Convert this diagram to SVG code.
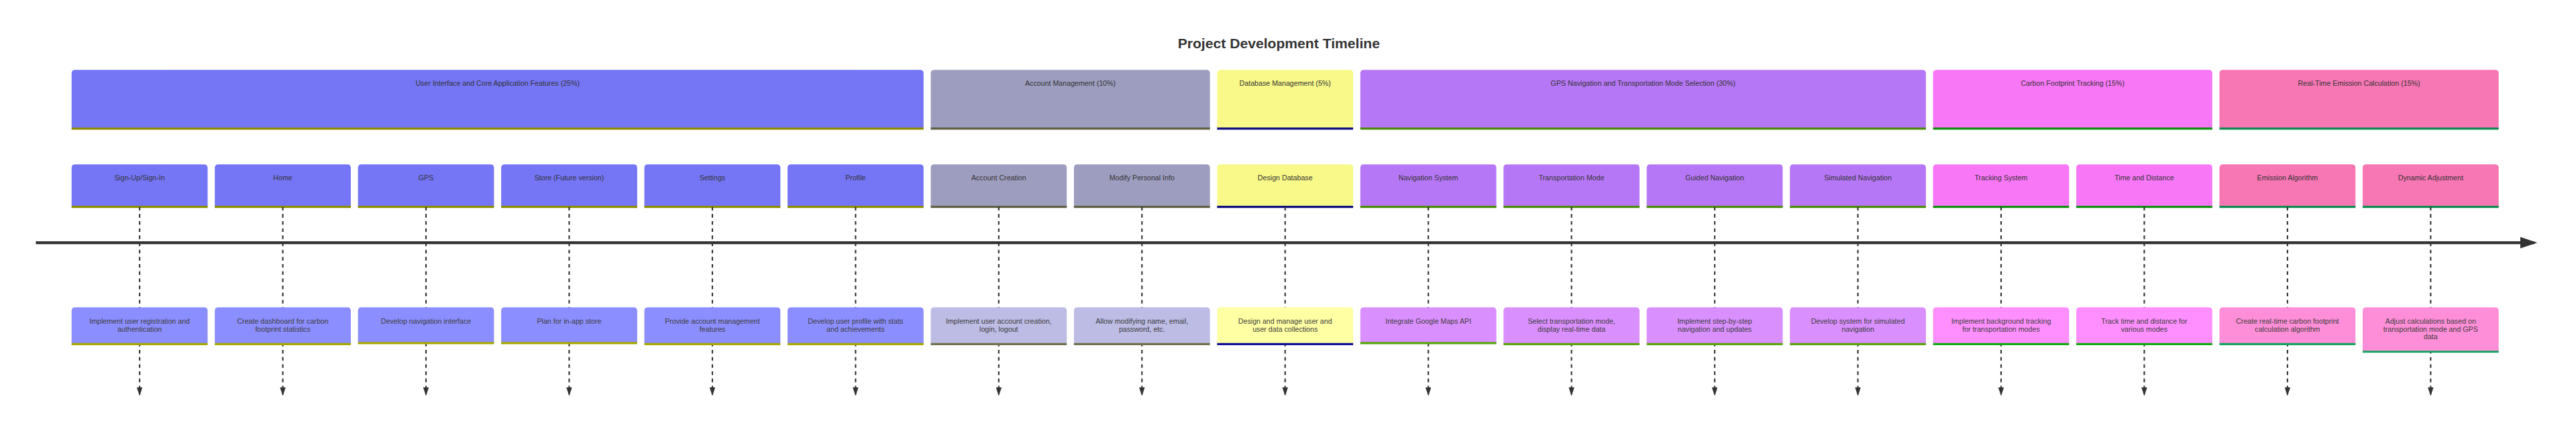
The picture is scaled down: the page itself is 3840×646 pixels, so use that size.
<svg xmlns="http://www.w3.org/2000/svg" width="3840" height="646" viewBox="0 0 3840 646">
<style>
.t{font-family:"Liberation Sans",Arial,Helvetica,sans-serif;font-size:10px;text-anchor:middle;dominant-baseline:middle;fill:#333333}
.ev .t{fill:#3d3d3d}
.title{font-family:"Liberation Sans",Arial,Helvetica,sans-serif;font-size:19.8px;font-weight:bold;fill:#333333}
.node line{stroke-width:3}
.s1 path{fill:#7476F6}.s1 line{stroke:#8C8C00}
.s2 path{fill:#9D9DBF}.s2 line{stroke:#5F5F42}
.s3 path{fill:#F8F988}.s3 line{stroke:#0E0E80}
.s4 path{fill:#B677F6}.s4 line{stroke:#4A8A0A}
.s5 path{fill:#F877F7}.s5 line{stroke:#0F8F0F}
.s6 path{fill:#F776B4}.s6 line{stroke:#0F8A4F}
.e1 path{fill:#8B8EFF}.e1 line{stroke:#A8A800}
.e2 path{fill:#BCBCE5}.e2 line{stroke:#72724F}
.e3 path{fill:#FFFFA3}.e3 line{stroke:#11119A}
.e4 path{fill:#DA8FFF}.e4 line{stroke:#59A60C}
.e5 path{fill:#FF8FFF}.e5 line{stroke:#12AC12}
.e6 path{fill:#FF8ED8}.e6 line{stroke:#12A65F}
.dash{stroke:#333333;stroke-width:2;stroke-dasharray:5,5;marker-end:url(#arrowhead)}
.axis{stroke:#333333;stroke-width:4;marker-end:url(#arrowhead)}
</style>
<defs>
<marker id="arrowhead" refX="5" refY="2" markerWidth="6" markerHeight="4" orient="auto"><path d="M 0,0 V 4 L6,2 Z" fill="#333333"/></marker>
</defs>
<g transform="translate(0,50.91) scale(1.06726)">
<text class="title" x="1645" y="20">Project Development Timeline</text>

<g id="sections">
<g id="section-ui" class="node s1" transform="translate(100,50)"><path d="M0 77 v-72 q0,-5 5,-5 h1180 q5,0 5,5 v77 H0 Z"/><line x1="0" y1="82" x2="1190" y2="82"/><text class="t" x="595" y="20">User Interface and Core Application Features (25%)</text></g>
<g id="section-account" class="node s2" transform="translate(1300,50)"><path d="M0 77 v-72 q0,-5 5,-5 h380 q5,0 5,5 v77 H0 Z"/><line x1="0" y1="82" x2="390" y2="82"/><text class="t" x="195" y="20">Account Management (10%)</text></g>
<g id="section-database" class="node s3" transform="translate(1700,50)"><path d="M0 77 v-72 q0,-5 5,-5 h180 q5,0 5,5 v77 H0 Z"/><line x1="0" y1="82" x2="190" y2="82"/><text class="t" x="95" y="20">Database Management (5%)</text></g>
<g id="section-gps" class="node s4" transform="translate(1900,50)"><path d="M0 77 v-72 q0,-5 5,-5 h780 q5,0 5,5 v77 H0 Z"/><line x1="0" y1="82" x2="790" y2="82"/><text class="t" x="395" y="20">GPS Navigation and Transportation Mode Selection (30%)</text></g>
<g id="section-carbon" class="node s5" transform="translate(2700,50)"><path d="M0 77 v-72 q0,-5 5,-5 h380 q5,0 5,5 v77 H0 Z"/><line x1="0" y1="82" x2="390" y2="82"/><text class="t" x="195" y="20">Carbon Footprint Tracking (15%)</text></g>
<g id="section-emission" class="node s6" transform="translate(3100,50)"><path d="M0 77 v-72 q0,-5 5,-5 h380 q5,0 5,5 v77 H0 Z"/><line x1="0" y1="82" x2="390" y2="82"/><text class="t" x="195" y="20">Real-Time Emission Calculation (15%)</text></g>
</g>

<g id="tasks">
<g id="task-signup" class="node s1" transform="translate(100,182)"><path d="M0 54.5 v-49.5 q0,-5 5,-5 h180 q5,0 5,5 v54.5 H0 Z"/><line x1="0" y1="59.5" x2="190" y2="59.5"/><text class="t" x="95" y="20">Sign-Up/Sign-In</text></g>
<g id="task-home" class="node s1" transform="translate(300,182)"><path d="M0 54.5 v-49.5 q0,-5 5,-5 h180 q5,0 5,5 v54.5 H0 Z"/><line x1="0" y1="59.5" x2="190" y2="59.5"/><text class="t" x="95" y="20">Home</text></g>
<g id="task-gps" class="node s1" transform="translate(500,182)"><path d="M0 54.5 v-49.5 q0,-5 5,-5 h180 q5,0 5,5 v54.5 H0 Z"/><line x1="0" y1="59.5" x2="190" y2="59.5"/><text class="t" x="95" y="20">GPS</text></g>
<g id="task-store" class="node s1" transform="translate(700,182)"><path d="M0 54.5 v-49.5 q0,-5 5,-5 h180 q5,0 5,5 v54.5 H0 Z"/><line x1="0" y1="59.5" x2="190" y2="59.5"/><text class="t" x="95" y="20">Store (Future version)</text></g>
<g id="task-settings" class="node s1" transform="translate(900,182)"><path d="M0 54.5 v-49.5 q0,-5 5,-5 h180 q5,0 5,5 v54.5 H0 Z"/><line x1="0" y1="59.5" x2="190" y2="59.5"/><text class="t" x="95" y="20">Settings</text></g>
<g id="task-profile" class="node s1" transform="translate(1100,182)"><path d="M0 54.5 v-49.5 q0,-5 5,-5 h180 q5,0 5,5 v54.5 H0 Z"/><line x1="0" y1="59.5" x2="190" y2="59.5"/><text class="t" x="95" y="20">Profile</text></g>
<g id="task-account-creation" class="node s2" transform="translate(1300,182)"><path d="M0 54.5 v-49.5 q0,-5 5,-5 h180 q5,0 5,5 v54.5 H0 Z"/><line x1="0" y1="59.5" x2="190" y2="59.5"/><text class="t" x="95" y="20">Account Creation</text></g>
<g id="task-modify-info" class="node s2" transform="translate(1500,182)"><path d="M0 54.5 v-49.5 q0,-5 5,-5 h180 q5,0 5,5 v54.5 H0 Z"/><line x1="0" y1="59.5" x2="190" y2="59.5"/><text class="t" x="95" y="20">Modify Personal Info</text></g>
<g id="task-design-db" class="node s3" transform="translate(1700,182)"><path d="M0 54.5 v-49.5 q0,-5 5,-5 h180 q5,0 5,5 v54.5 H0 Z"/><line x1="0" y1="59.5" x2="190" y2="59.5"/><text class="t" x="95" y="20">Design Database</text></g>
<g id="task-nav-system" class="node s4" transform="translate(1900,182)"><path d="M0 54.5 v-49.5 q0,-5 5,-5 h180 q5,0 5,5 v54.5 H0 Z"/><line x1="0" y1="59.5" x2="190" y2="59.5"/><text class="t" x="95" y="20">Navigation System</text></g>
<g id="task-transport-mode" class="node s4" transform="translate(2100,182)"><path d="M0 54.5 v-49.5 q0,-5 5,-5 h180 q5,0 5,5 v54.5 H0 Z"/><line x1="0" y1="59.5" x2="190" y2="59.5"/><text class="t" x="95" y="20">Transportation Mode</text></g>
<g id="task-guided-nav" class="node s4" transform="translate(2300,182)"><path d="M0 54.5 v-49.5 q0,-5 5,-5 h180 q5,0 5,5 v54.5 H0 Z"/><line x1="0" y1="59.5" x2="190" y2="59.5"/><text class="t" x="95" y="20">Guided Navigation</text></g>
<g id="task-simulated-nav" class="node s4" transform="translate(2500,182)"><path d="M0 54.5 v-49.5 q0,-5 5,-5 h180 q5,0 5,5 v54.5 H0 Z"/><line x1="0" y1="59.5" x2="190" y2="59.5"/><text class="t" x="95" y="20">Simulated Navigation</text></g>
<g id="task-tracking" class="node s5" transform="translate(2700,182)"><path d="M0 54.5 v-49.5 q0,-5 5,-5 h180 q5,0 5,5 v54.5 H0 Z"/><line x1="0" y1="59.5" x2="190" y2="59.5"/><text class="t" x="95" y="20">Tracking System</text></g>
<g id="task-time-distance" class="node s5" transform="translate(2900,182)"><path d="M0 54.5 v-49.5 q0,-5 5,-5 h180 q5,0 5,5 v54.5 H0 Z"/><line x1="0" y1="59.5" x2="190" y2="59.5"/><text class="t" x="95" y="20">Time and Distance</text></g>
<g id="task-emission-algo" class="node s6" transform="translate(3100,182)"><path d="M0 54.5 v-49.5 q0,-5 5,-5 h180 q5,0 5,5 v54.5 H0 Z"/><line x1="0" y1="59.5" x2="190" y2="59.5"/><text class="t" x="95" y="20">Emission Algorithm</text></g>
<g id="task-dynamic-adj" class="node s6" transform="translate(3300,182)"><path d="M0 54.5 v-49.5 q0,-5 5,-5 h180 q5,0 5,5 v54.5 H0 Z"/><line x1="0" y1="59.5" x2="190" y2="59.5"/><text class="t" x="95" y="20">Dynamic Adjustment</text></g>
</g>

<g id="connectors">
<line class="dash" x1="195" y1="241.5" x2="195" y2="503.8"/>
<line class="dash" x1="395" y1="241.5" x2="395" y2="503.8"/>
<line class="dash" x1="595" y1="241.5" x2="595" y2="503.8"/>
<line class="dash" x1="795" y1="241.5" x2="795" y2="503.8"/>
<line class="dash" x1="995" y1="241.5" x2="995" y2="503.8"/>
<line class="dash" x1="1195" y1="241.5" x2="1195" y2="503.8"/>
<line class="dash" x1="1395" y1="241.5" x2="1395" y2="503.8"/>
<line class="dash" x1="1595" y1="241.5" x2="1595" y2="503.8"/>
<line class="dash" x1="1795" y1="241.5" x2="1795" y2="503.8"/>
<line class="dash" x1="1995" y1="241.5" x2="1995" y2="503.8"/>
<line class="dash" x1="2195" y1="241.5" x2="2195" y2="503.8"/>
<line class="dash" x1="2395" y1="241.5" x2="2395" y2="503.8"/>
<line class="dash" x1="2595" y1="241.5" x2="2595" y2="503.8"/>
<line class="dash" x1="2795" y1="241.5" x2="2795" y2="503.8"/>
<line class="dash" x1="2995" y1="241.5" x2="2995" y2="503.8"/>
<line class="dash" x1="3195" y1="241.5" x2="3195" y2="503.8"/>
<line class="dash" x1="3395" y1="241.5" x2="3395" y2="503.8"/>
<line class="axis" x1="50" y1="291.5" x2="3540" y2="291.5"/>
</g>

<g id="events">
<g id="event-registration" class="node ev e1" transform="translate(100,382)"><path d="M0 46.3 v-41.3 q0,-5 5,-5 h180 q5,0 5,5 v46.3 H0 Z"/><line x1="0" y1="51.3" x2="190" y2="51.3"/><text class="t"><tspan x="95" y="20">Implement user registration and</tspan><tspan x="95" y="31">authentication</tspan></text></g>
<g id="event-dashboard" class="node ev e1" transform="translate(300,382)"><path d="M0 46.3 v-41.3 q0,-5 5,-5 h180 q5,0 5,5 v46.3 H0 Z"/><line x1="0" y1="51.3" x2="190" y2="51.3"/><text class="t"><tspan x="95" y="20">Create dashboard for carbon</tspan><tspan x="95" y="31">footprint statistics</tspan></text></g>
<g id="event-nav-interface" class="node ev e1" transform="translate(500,382)"><path d="M0 45 v-40 q0,-5 5,-5 h180 q5,0 5,5 v45 H0 Z"/><line x1="0" y1="50" x2="190" y2="50"/><text class="t" x="95" y="20">Develop navigation interface</text></g>
<g id="event-store" class="node ev e1" transform="translate(700,382)"><path d="M0 45 v-40 q0,-5 5,-5 h180 q5,0 5,5 v45 H0 Z"/><line x1="0" y1="50" x2="190" y2="50"/><text class="t" x="95" y="20">Plan for in-app store</text></g>
<g id="event-account-mgmt" class="node ev e1" transform="translate(900,382)"><path d="M0 46.3 v-41.3 q0,-5 5,-5 h180 q5,0 5,5 v46.3 H0 Z"/><line x1="0" y1="51.3" x2="190" y2="51.3"/><text class="t"><tspan x="95" y="20">Provide account management</tspan><tspan x="95" y="31">features</tspan></text></g>
<g id="event-profile" class="node ev e1" transform="translate(1100,382)"><path d="M0 46.3 v-41.3 q0,-5 5,-5 h180 q5,0 5,5 v46.3 H0 Z"/><line x1="0" y1="51.3" x2="190" y2="51.3"/><text class="t"><tspan x="95" y="20">Develop user profile with stats</tspan><tspan x="95" y="31">and achievements</tspan></text></g>
<g id="event-account-creation" class="node ev e2" transform="translate(1300,382)"><path d="M0 46.3 v-41.3 q0,-5 5,-5 h180 q5,0 5,5 v46.3 H0 Z"/><line x1="0" y1="51.3" x2="190" y2="51.3"/><text class="t"><tspan x="95" y="20">Implement user account creation,</tspan><tspan x="95" y="31">login, logout</tspan></text></g>
<g id="event-modify" class="node ev e2" transform="translate(1500,382)"><path d="M0 46.3 v-41.3 q0,-5 5,-5 h180 q5,0 5,5 v46.3 H0 Z"/><line x1="0" y1="51.3" x2="190" y2="51.3"/><text class="t"><tspan x="95" y="20">Allow modifying name, email,</tspan><tspan x="95" y="31">password, etc.</tspan></text></g>
<g id="event-db" class="node ev e3" transform="translate(1700,382)"><path d="M0 46.3 v-41.3 q0,-5 5,-5 h180 q5,0 5,5 v46.3 H0 Z"/><line x1="0" y1="51.3" x2="190" y2="51.3"/><text class="t"><tspan x="95" y="20">Design and manage user and</tspan><tspan x="95" y="31">user data collections</tspan></text></g>
<g id="event-maps" class="node ev e4" transform="translate(1900,382)"><path d="M0 45 v-40 q0,-5 5,-5 h180 q5,0 5,5 v45 H0 Z"/><line x1="0" y1="50" x2="190" y2="50"/><text class="t" x="95" y="20">Integrate Google Maps API</text></g>
<g id="event-transport" class="node ev e4" transform="translate(2100,382)"><path d="M0 46.3 v-41.3 q0,-5 5,-5 h180 q5,0 5,5 v46.3 H0 Z"/><line x1="0" y1="51.3" x2="190" y2="51.3"/><text class="t"><tspan x="95" y="20">Select transportation mode,</tspan><tspan x="95" y="31">display real-time data</tspan></text></g>
<g id="event-guided" class="node ev e4" transform="translate(2300,382)"><path d="M0 46.3 v-41.3 q0,-5 5,-5 h180 q5,0 5,5 v46.3 H0 Z"/><line x1="0" y1="51.3" x2="190" y2="51.3"/><text class="t"><tspan x="95" y="20">Implement step-by-step</tspan><tspan x="95" y="31">navigation and updates</tspan></text></g>
<g id="event-simulated" class="node ev e4" transform="translate(2500,382)"><path d="M0 46.3 v-41.3 q0,-5 5,-5 h180 q5,0 5,5 v46.3 H0 Z"/><line x1="0" y1="51.3" x2="190" y2="51.3"/><text class="t"><tspan x="95" y="20">Develop system for simulated</tspan><tspan x="95" y="31">navigation</tspan></text></g>
<g id="event-tracking" class="node ev e5" transform="translate(2700,382)"><path d="M0 46.3 v-41.3 q0,-5 5,-5 h180 q5,0 5,5 v46.3 H0 Z"/><line x1="0" y1="51.3" x2="190" y2="51.3"/><text class="t"><tspan x="95" y="20">Implement background tracking</tspan><tspan x="95" y="31">for transportation modes</tspan></text></g>
<g id="event-time" class="node ev e5" transform="translate(2900,382)"><path d="M0 46.3 v-41.3 q0,-5 5,-5 h180 q5,0 5,5 v46.3 H0 Z"/><line x1="0" y1="51.3" x2="190" y2="51.3"/><text class="t"><tspan x="95" y="20">Track time and distance for</tspan><tspan x="95" y="31">various modes</tspan></text></g>
<g id="event-algorithm" class="node ev e6" transform="translate(3100,382)"><path d="M0 46.3 v-41.3 q0,-5 5,-5 h180 q5,0 5,5 v46.3 H0 Z"/><line x1="0" y1="51.3" x2="190" y2="51.3"/><text class="t"><tspan x="95" y="20">Create real-time carbon footprint</tspan><tspan x="95" y="31">calculation algorithm</tspan></text></g>
<g id="event-adjust" class="node ev e6" transform="translate(3300,382)"><path d="M0 57 v-52 q0,-5 5,-5 h180 q5,0 5,5 v57 H0 Z"/><line x1="0" y1="62" x2="190" y2="62"/><text class="t"><tspan x="95" y="20">Adjust calculations based on</tspan><tspan x="95" y="31">transportation mode and GPS</tspan><tspan x="95" y="42">data</tspan></text></g>
</g>
</g>
</svg>
